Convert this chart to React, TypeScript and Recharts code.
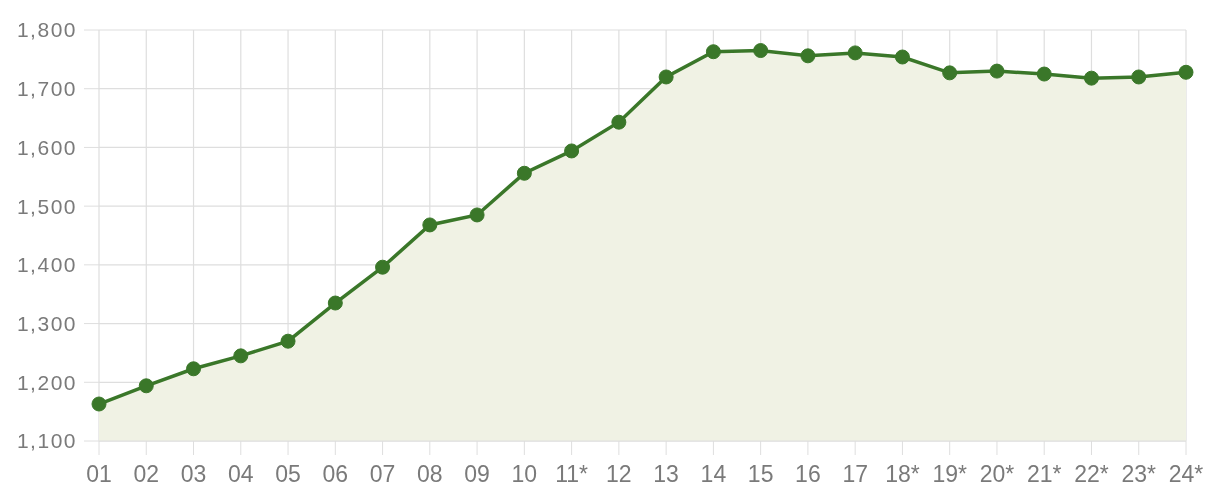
import { Area, AreaChart, CartesianGrid, XAxis, YAxis } from "recharts";

const periods = [
  "01", "02", "03", "04", "05", "06", "07", "08", "09", "10", "11*", "12",
  "13", "14", "15", "16", "17", "18*", "19*", "20*", "21*", "22*", "23*", "24*",
];

const values = [
  1163, 1194, 1223, 1245, 1270, 1335, 1396, 1468, 1485, 1556, 1594, 1643,
  1720, 1763, 1765, 1756, 1761, 1754, 1727, 1730, 1725, 1718, 1720, 1728,
];

const yTicks = [1100, 1200, 1300, 1400, 1500, 1600, 1700, 1800];

const data = periods.map((name, i) => ({ name, value: values[i] }));

const GRID = "#dedede";
const LABEL = "#7a7a7a";
const GREEN = "#3a7729";

export default function App() {
  return (
    <div
      style={{
        position: "fixed",
        top: 0,
        left: 0,
        width: 1205,
        height: 488,
        fontFamily: "Liberation Sans, Arial, sans-serif",
      }}
    >
      <AreaChart
        width={1205}
        height={488}
        data={data}
        margin={{ top: 30, right: 19, left: 0, bottom: 0 }}
      >
        <CartesianGrid stroke={GRID} strokeWidth={1.2} />
        <XAxis
          dataKey="name"
          height={47}
          stroke={GRID}
          tickSize={14}
          tickMargin={11}
          fontSize={23}
          tick={{ fill: LABEL, fontSize: 23 }}
          interval={0}
        />
        <YAxis
          width={99}
          domain={[1100, 1800]}
          ticks={yTicks}
          axisLine={false}
          stroke={GRID}
          tickSize={15}
          tickMargin={7}
          fontSize={21}
          tickFormatter={(v: number) => v.toLocaleString("en-US")}
          tick={{ fill: LABEL, fontSize: 21, letterSpacing: 1.5 }}
        />
        <Area
          type="linear"
          dataKey="value"
          stroke={GREEN}
          strokeWidth={3.5}
          fill="#f0f2e4"
          fillOpacity={1}
          dot={{ r: 7, fill: GREEN, stroke: GREEN, strokeWidth: 1, fillOpacity: 1 }}
          activeDot={false}
          isAnimationActive={false}
        />
      </AreaChart>
    </div>
  );
}
